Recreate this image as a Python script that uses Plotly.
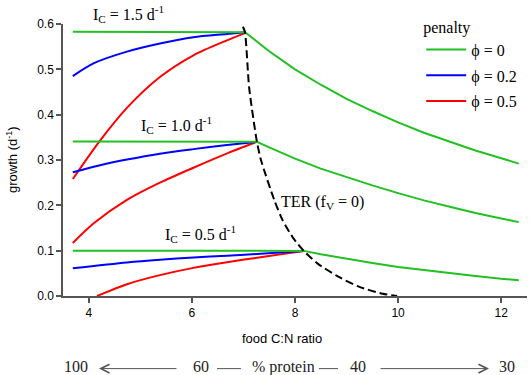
import plotly.graph_objects as go

# ---------------- data ----------------
# green: phi = 0 (flat at I_C-limited growth, then N-limited decline past TER)
green_hi_x = [3.69, 7.03, 7.5, 8.0, 8.5, 9.0, 9.5, 10.0, 10.5, 11.0, 11.5, 12.0, 12.34]
green_hi_y = [0.583, 0.582, 0.540, 0.500, 0.466, 0.435, 0.408, 0.383, 0.360, 0.340, 0.321, 0.304, 0.292]
green_mid_x = [3.69, 7.26, 7.5, 8.0, 8.5, 9.0, 9.5, 10.0, 10.5, 11.0, 11.5, 12.0, 12.34]
green_mid_y = [0.341, 0.340, 0.328, 0.303, 0.281, 0.262, 0.244, 0.227, 0.211, 0.197, 0.183, 0.171, 0.163]
green_lo_x = [3.69, 8.17, 8.5, 9.0, 9.5, 10.0, 10.5, 11.0, 11.5, 12.0, 12.34]
green_lo_y = [0.100, 0.0995, 0.092, 0.082, 0.073, 0.064, 0.057, 0.050, 0.044, 0.038, 0.035]

# blue: phi = 0.2
blue_hi_x = [3.69, 4.09, 4.74, 5.38, 6.03, 6.68, 7.03]
blue_hi_y = [0.485, 0.513, 0.539, 0.557, 0.571, 0.578, 0.582]
blue_mid_x = [3.69, 4.2, 4.74, 5.38, 6.03, 6.68, 7.26]
blue_mid_y = [0.273, 0.288, 0.301, 0.314, 0.324, 0.333, 0.340]
blue_lo_x = [3.69, 4.74, 5.38, 6.03, 6.68, 7.33, 8.17]
blue_lo_y = [0.061, 0.074, 0.080, 0.085, 0.089, 0.093, 0.0995]

# red: phi = 0.5
red_hi_x = [3.69, 4.2, 4.74, 5.38, 6.03, 6.68, 7.03]
red_hi_y = [0.258, 0.340, 0.415, 0.483, 0.531, 0.564, 0.580]
red_mid_x = [3.69, 4.09, 4.74, 5.38, 6.03, 6.65, 7.26]
red_mid_y = [0.117, 0.160, 0.212, 0.250, 0.283, 0.313, 0.340]
red_lo_x = [4.16, 4.74, 5.38, 6.03, 6.68, 7.33, 8.17]
red_lo_y = [0.0, 0.026, 0.046, 0.062, 0.0745, 0.0855, 0.0995]

# TER line (f_V = 0)
ter_x = [6.99, 7.03, 7.11, 7.26, 7.34, 7.60, 7.76, 7.97, 8.17, 8.44, 8.85, 9.25, 9.70, 9.98]
ter_y = [0.594, 0.582, 0.46, 0.341, 0.30, 0.211, 0.167, 0.127, 0.0994, 0.0715, 0.042, 0.020, 0.005, 0.0]

x_ticks = [4, 6, 8, 10, 12]
y_ticks = [0.0, 0.1, 0.2, 0.3, 0.4, 0.5, 0.6]

series_names = ["\u03d5 = 0", "\u03d5 = 0.2", "\u03d5 = 0.5"]
ic_labels = ["I<sub>C</sub> = 1.5 d<sup>-1</sup>", "I<sub>C</sub> = 1.0 d<sup>-1</sup>",
             "I<sub>C</sub> = 0.5 d<sup>-1</sup>"]
protein_labels = ["100", "60", "% protein", "40", "30"]

# ---------------- styling ----------------
GREEN = "#22c022"
BLUE = "#0000ff"
RED = "#ff0000"
SERIF = "Liberation Serif, Times New Roman, serif"
SANS = "Liberation Sans, Arial, sans-serif"
AXC = "#555555"

fig = go.Figure()

def add_group(xs_list, ys_list, color, name, rank, shape):
    for i, (xs, ys) in enumerate(zip(xs_list, ys_list)):
        fig.add_trace(go.Scatter(
            x=xs, y=ys, mode="lines", name=name, legendgroup=name,
            showlegend=(i == 0), legendrank=rank,
            line=dict(color=color, width=2, shape=shape, smoothing=0.8) if shape == "spline"
            else dict(color=color, width=2),
            hoverinfo="skip"))

add_group([red_hi_x, red_mid_x, red_lo_x], [red_hi_y, red_mid_y, red_lo_y], RED, series_names[2], 3, "spline")
add_group([blue_hi_x, blue_mid_x, blue_lo_x], [blue_hi_y, blue_mid_y, blue_lo_y], BLUE, series_names[1], 2, "spline")
add_group([green_hi_x, green_mid_x, green_lo_x], [green_hi_y, green_mid_y, green_lo_y], GREEN, series_names[0], 1, "linear")

fig.add_trace(go.Scatter(x=ter_x, y=ter_y, mode="lines", showlegend=False,
                         line=dict(color="black", width=2, dash="8px,4px", shape="spline", smoothing=0.6),
                         hoverinfo="skip"))

annotations = []
# I_C labels
annotations.append(dict(x=(128.5 - 63) / 464, y=(296 - 14) / 272, xref="paper", yref="paper",
                        text=ic_labels[0], showarrow=False,
                        font=dict(family=SERIF, size=16, color="black"),
                        xanchor="center", yanchor="middle"))
for txt, (ax_, ay_) in zip(ic_labels[1:], [(5.71, 0.377), (6.16, 0.136)]):
    annotations.append(dict(x=ax_, y=ay_, xref="x", yref="y", text=txt, showarrow=False,
                            font=dict(family=SERIF, size=16, color="black"),
                            xanchor="center", yanchor="middle"))
annotations.append(dict(x=8.54, y=0.207, xref="x", yref="y", text="TER (f<sub>V</sub> = 0)",
                        showarrow=False, font=dict(family=SERIF, size=16, color="black"),
                        xanchor="center", yanchor="middle"))
# axis titles
annotations.append(dict(x=0.472, y=-0.158, xref="paper", yref="paper", text="food C:N ratio",
                        showarrow=False, font=dict(family=SANS, size=13, color="black"),
                        xanchor="center", yanchor="middle"))
annotations.append(dict(x=0, y=0.5, xref="paper", yref="paper", text="growth (d<sup>-1</sup>)",
                        showarrow=False, textangle=-90, xshift=-51,
                        font=dict(family=SANS, size=13, color="black"),
                        xanchor="center", yanchor="middle"))
# protein row
py_row = -0.261
for txt, xp in zip(protein_labels, [0.028, 0.297, 0.476, 0.636, 0.957]):
    annotations.append(dict(x=xp, y=py_row, xref="paper", yref="paper", text=txt, showarrow=False,
                            font=dict(family=SERIF, size=16, color="#222222"),
                            xanchor="center", yanchor="middle"))
py_arrow = -0.267
annotations.append(dict(x=(99 - 63) / 464, y=py_arrow, xref="paper", yref="paper", text="",
                        showarrow=True, ax=79, ay=0, arrowhead=5, arrowsize=1.7, arrowwidth=1,
                        arrowcolor=AXC))
annotations.append(dict(x=(489 - 63) / 464, y=py_arrow, xref="paper", yref="paper", text="",
                        showarrow=True, ax=-110, ay=0, arrowhead=5, arrowsize=1.7, arrowwidth=1,
                        arrowcolor=AXC))

shapes = [
    dict(type="line", xref="paper", yref="paper", x0=(217 - 63) / 464, x1=(241 - 63) / 464,
         y0=py_arrow, y1=py_arrow, line=dict(color=AXC, width=1)),
    dict(type="line", xref="paper", yref="paper", x0=(319 - 63) / 464, x1=(338 - 63) / 464,
         y0=py_arrow, y1=py_arrow, line=dict(color=AXC, width=1)),
]

fig.update_layout(
    width=529, height=375,
    margin=dict(l=63, r=2, t=24, b=79, autoexpand=False),
    paper_bgcolor="white", plot_bgcolor="white",
    showlegend=True,
    legend=dict(x=0.772, y=1.045, xanchor="left", yanchor="top",
                title=dict(text="penalty", side="top",
                           font=dict(family=SERIF, size=16, color="black")),
                font=dict(family=SERIF, size=16, color="black"),
                bgcolor="rgba(0,0,0,0)", borderwidth=0, tracegroupgap=2, itemwidth=40),
    annotations=annotations,
    shapes=shapes,
    xaxis=dict(range=[3.5, 12.5], tickvals=x_ticks, ticks="outside", ticklen=5, tickwidth=1.5,
               tickcolor=AXC, showline=True, linecolor=AXC, linewidth=1.5, showgrid=False,
               zeroline=False, tickfont=dict(family=SANS, size=12, color="black")),
    yaxis=dict(range=[0, 0.6], tickvals=y_ticks, tickformat=".1f", ticks="outside", ticklen=5,
               tickwidth=1.5, tickcolor=AXC, showline=True, linecolor=AXC, linewidth=1.5,
               showgrid=False, zeroline=False, tickfont=dict(family=SANS, size=12, color="black")),
)

fig.write_html("out.html", config={"displayModeBar": False},
               post_script="document.body.style.margin='0';")
